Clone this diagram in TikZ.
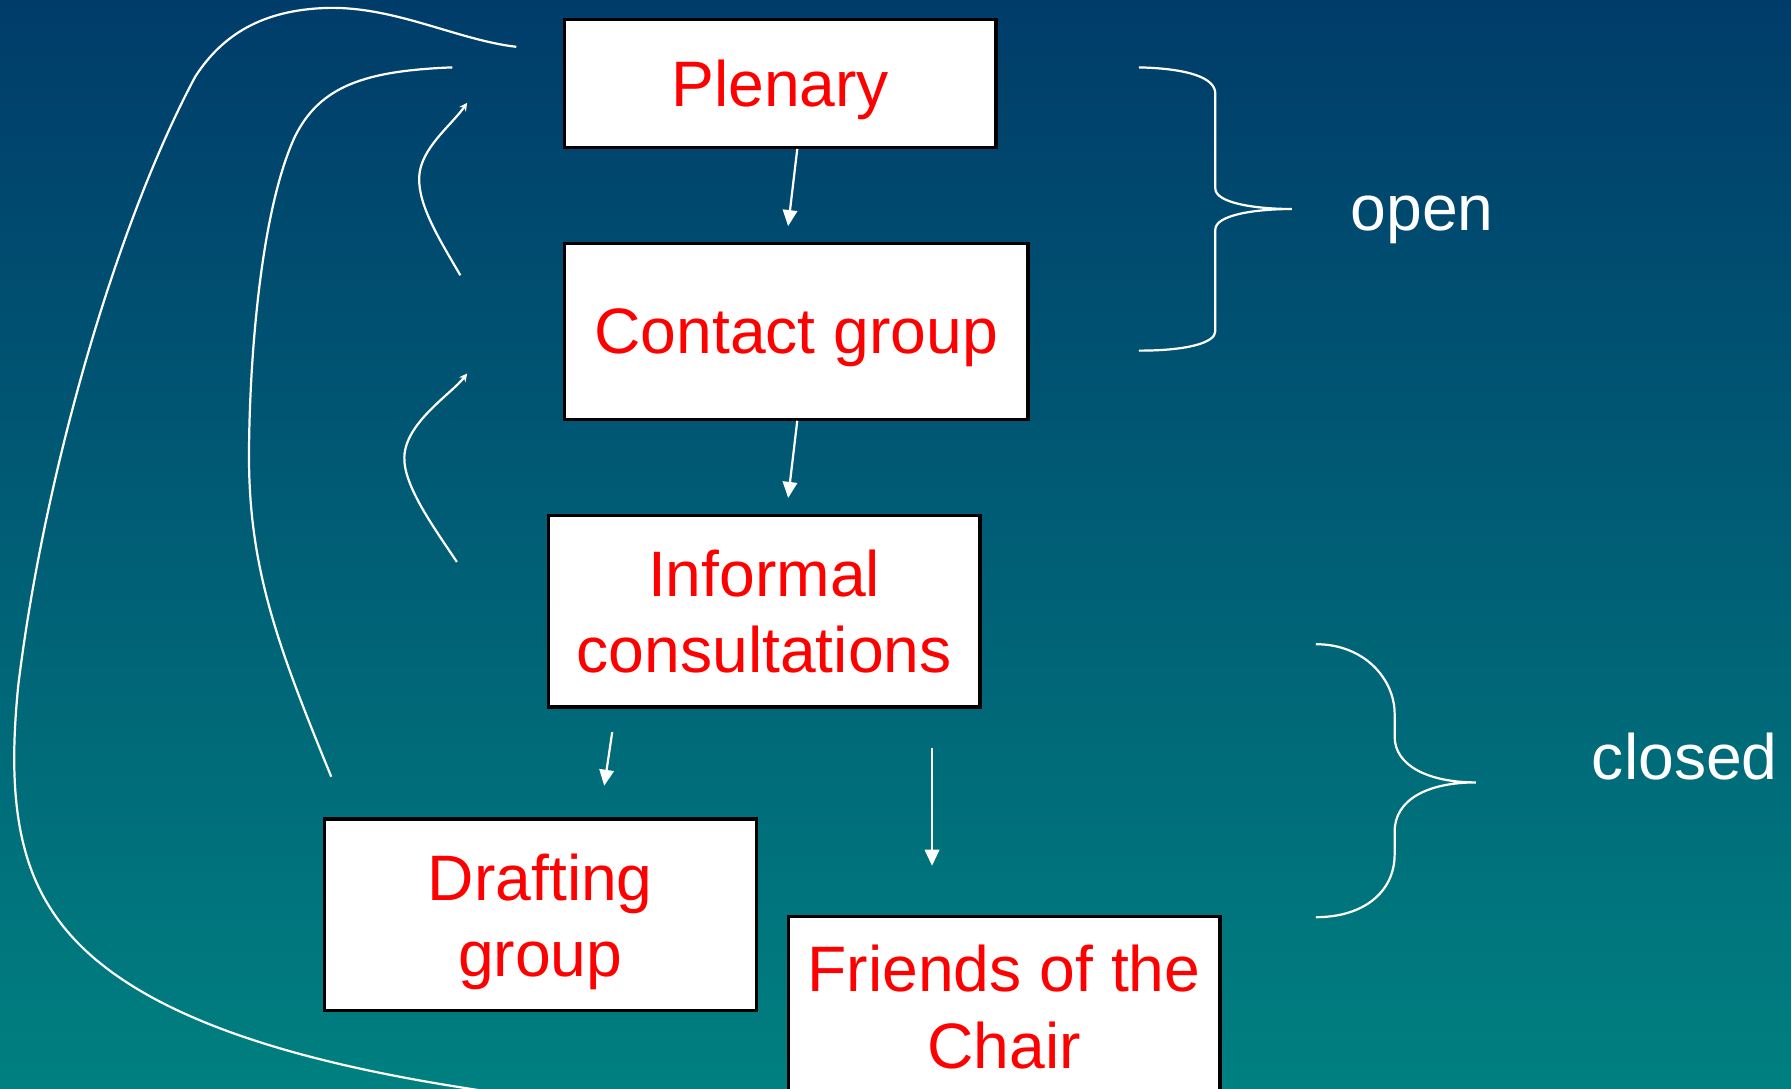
\documentclass[tikz,border=0pt]{standalone}
\usepackage{fontspec}
\setmainfont{Liberation Sans}
\usetikzlibrary{arrows.meta}
\usetikzlibrary{calc}
\definecolor{slidetop}{RGB}{0,60,106}
\definecolor{slidebottom}{RGB}{0,128,128}
\definecolor{labelred}{RGB}{255,0,0}

\begin{document}
\begin{tikzpicture}
		[
			x = 0.1mm, y = -0.1mm,
			stage/.style = {rectangle, fill = white, draw = black, line width = 0.8pt, text = labelred, font = \fontsize{16}{19}\selectfont, align = center, inner sep = 0cm, text depth = 0pt, minimum width = 3.78cm, minimum height = 1.68cm},
			flow/.style = {draw = white, line width = 0.55pt, -{Triangle[length = 4pt, width = 3.6pt]}},
			feedback/.style = {draw = white, line width = 0.55pt},
			backtip/.style = {feedback, -{Stealth[length = 2pt, width = 2pt]}},
			groupbrace/.style = {draw = white, line width = 0.55pt},
			tag/.style = {text = white, font = \fontsize{16}{19}\selectfont, inner sep = 0cm, text depth = 0pt},
		]
			%
			\clip (0,0) rectangle (1568,953);
			\shade [top color = slidetop, bottom color = slidebottom] (0,0) rectangle (1568,953);
			%
			\node (plenary) [stage, minimum width = 3.78cm, minimum height = 1.12cm] at (683,73) {Plenary};
			\node (contact) [stage, minimum width = 4.06cm, minimum height = 1.54cm] at (697,290) {Contact group};
			\node (informal) [stage] at (669,535) {Informal\\consultations};
			\node (drafting) [stage] at (473,801) {Drafting\\group};
			\node (friends) [stage, anchor = north, minimum height = 1.58cm] at (879,801) {Friends of the\\Chair};
			%
			\node (open) [tag] at (1245,187) {open};
			\node (closed) [tag] at (1475,662) {closed};
			%
			\coordinate (plenarytip) at (690,198);
			\coordinate (contacttip) at (690,436);
			\coordinate (draftingtail) at (536,641);
			\coordinate (draftingtip) at (529,688);
			\coordinate (friendstail) at (816,655);
			\coordinate (friendstip) at (816,758);
			\draw [flow] ($(plenary.south)+(15,0)$) -- (plenarytip);
			\draw [flow] ($(contact.south)+(1,0)$) -- (contacttip);
			\draw [flow] (draftingtail) -- (draftingtip);
			\draw [flow] (friendstail) -- (friendstip);
			%
			% lines back to the plenary
			\draw [feedback] (452,41) .. controls (400,35) and (345,5) .. (285,7)
				.. controls (230,9) and (195,30) .. (171,67)
				.. controls (100,200) and (38,420) .. (16,600)
				.. controls (8,680) and (12,745) .. (44,795)
				.. controls (100,885) and (250,930) .. (430,956);
			\draw [feedback] (396,59) .. controls (320,62) and (280,75) .. (258,120)
				.. controls (226,190) and (218,330) .. (218,400)
				.. controls (218,500) and (245,570) .. (290,680);
			\draw [backtip] (403,241) .. controls (385,210) and (366,180) .. (367,155)
				.. controls (368,130) and (395,110) .. (409,90);
			\draw [backtip] (400,492) .. controls (380,462) and (353,425) .. (354,400)
				.. controls (355,370) and (395,345) .. (409,327);
			%
			% braces
			\draw [groupbrace] (997,59) .. controls (1040,60) and (1064,68) .. (1064,82) -- (1064,165)
				.. controls (1064,178) and (1100,183) .. (1131,183)
				.. controls (1100,183) and (1064,188) .. (1064,201) -- (1064,290)
				.. controls (1064,300) and (1040,307) .. (997,307);
			\draw [groupbrace] (1152,564) .. controls (1195,564) and (1221,595) .. (1221,625) -- (1221,645)
				.. controls (1221,670) and (1250,685) .. (1292,685)
				.. controls (1250,685) and (1221,700) .. (1221,728) -- (1221,748)
				.. controls (1221,780) and (1195,803) .. (1152,803);
			%
		\end{tikzpicture}
\end{document}
